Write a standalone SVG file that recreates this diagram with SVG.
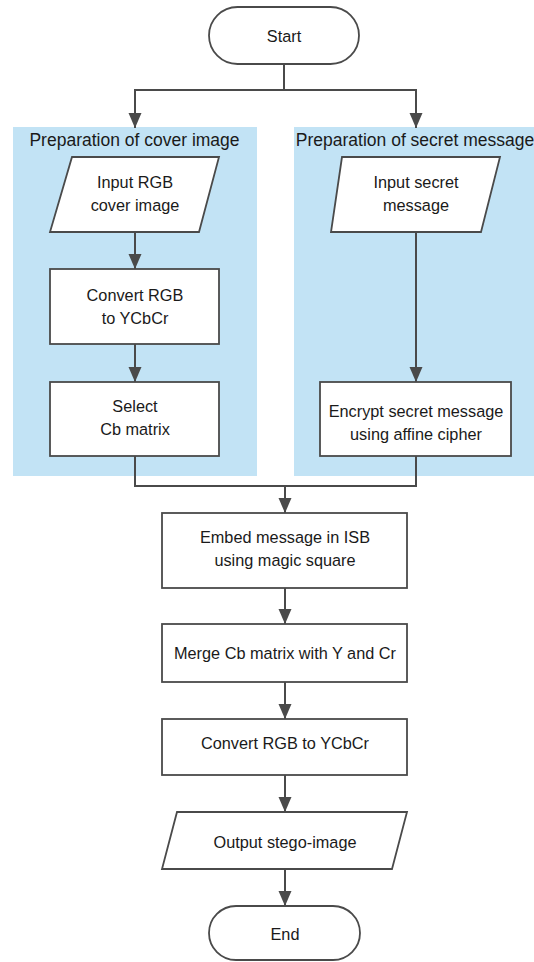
<svg xmlns="http://www.w3.org/2000/svg" width="534" height="962" viewBox="0 0 534 962">
<defs>
<style>
.panel{fill:#c2e3f5;stroke:none}
.node{fill:#ffffff;stroke:#4a4a4a;stroke-width:1.8}
.t{font-family:"Liberation Sans",Arial,sans-serif;font-size:16.3px;fill:#1a1a1a;text-anchor:middle}
.title{font-family:"Liberation Sans",Arial,sans-serif;font-size:17.5px;fill:#1a1a1a;text-anchor:middle}
.c{fill:none;stroke:#4a4a4a;stroke-width:2}
.ca{fill:none;stroke:#4a4a4a;stroke-width:2;marker-end:url(#ah)}
</style>
<marker id="ah" markerUnits="userSpaceOnUse" markerWidth="16" markerHeight="14" refX="15" refY="6.5" orient="auto">
<path d="M0,0 L15,6.5 L0,13 z" fill="#4a4a4a"/>
</marker>
</defs>
<rect width="534" height="962" fill="#ffffff"/>
<g id="panel-cover">
<rect class="panel" x="13" y="127" width="244" height="349"/>
<text class="title" x="134.5" y="146">Preparation of cover image</text>
</g>
<g id="panel-secret">
<rect class="panel" x="294" y="127" width="240" height="349"/>
<text class="title" x="415" y="146">Preparation of secret message</text>
</g>
<g id="connectors">
<path class="c" d="M284,64 V90"/>
<path class="ca" d="M284,90 H135 V128"/>
<path class="ca" d="M284,90 H416 V128"/>
<path class="ca" d="M135,232 V269"/>
<path class="ca" d="M135,344 V382"/>
<path class="ca" d="M416,232 V382"/>
<path class="c" d="M135,456 V486 H416 V456"/>
<path class="ca" d="M285,486 V513"/>
<path class="ca" d="M285,588 V624"/>
<path class="ca" d="M285,682 V719"/>
<path class="ca" d="M285,775 V812"/>
<path class="ca" d="M285,869 V906"/>
</g>
<g id="start">
<rect class="node" x="209" y="7" width="150" height="57" rx="28.5"/>
<text class="t" x="284" y="42">Start</text>
</g>
<g id="input-rgb">
<polygon class="node" points="72,157 219,157 199,232 50,232"/>
<text class="t" x="135" y="188">Input RGB</text>
<text class="t" x="135" y="211">cover image</text>
</g>
<g id="convert-rgb">
<rect class="node" x="50" y="269" width="169" height="75"/>
<text class="t" x="135" y="301">Convert RGB</text>
<text class="t" x="135" y="324">to YCbCr</text>
</g>
<g id="select-cb">
<rect class="node" x="50" y="382" width="169" height="74"/>
<text class="t" x="135" y="412">Select</text>
<text class="t" x="135" y="435">Cb matrix</text>
</g>
<g id="input-secret">
<polygon class="node" points="342,157 500,157 481,232 331,232"/>
<text class="t" x="416" y="188">Input secret</text>
<text class="t" x="416" y="211">message</text>
</g>
<g id="encrypt">
<rect class="node" x="320" y="382" width="191" height="74"/>
<text class="t" x="416" y="417">Encrypt secret message</text>
<text class="t" x="416" y="440">using affine cipher</text>
</g>
<g id="embed">
<rect class="node" x="162" y="513" width="245" height="75"/>
<text class="t" x="285" y="543">Embed message in ISB</text>
<text class="t" x="285" y="566">using magic square</text>
</g>
<g id="merge">
<rect class="node" x="162" y="624" width="245" height="58"/>
<text class="t" x="285" y="659">Merge Cb matrix with Y and Cr</text>
</g>
<g id="convert-2">
<rect class="node" x="162" y="719" width="245" height="56"/>
<text class="t" x="285" y="749">Convert RGB to YCbCr</text>
</g>
<g id="output">
<polygon class="node" points="177,812 407,812 392,869 162,869"/>
<text class="t" x="285" y="848">Output stego-image</text>
</g>
<g id="end">
<rect class="node" x="209" y="906" width="151" height="54" rx="27"/>
<text class="t" x="285" y="940">End</text>
</g>
</svg>
